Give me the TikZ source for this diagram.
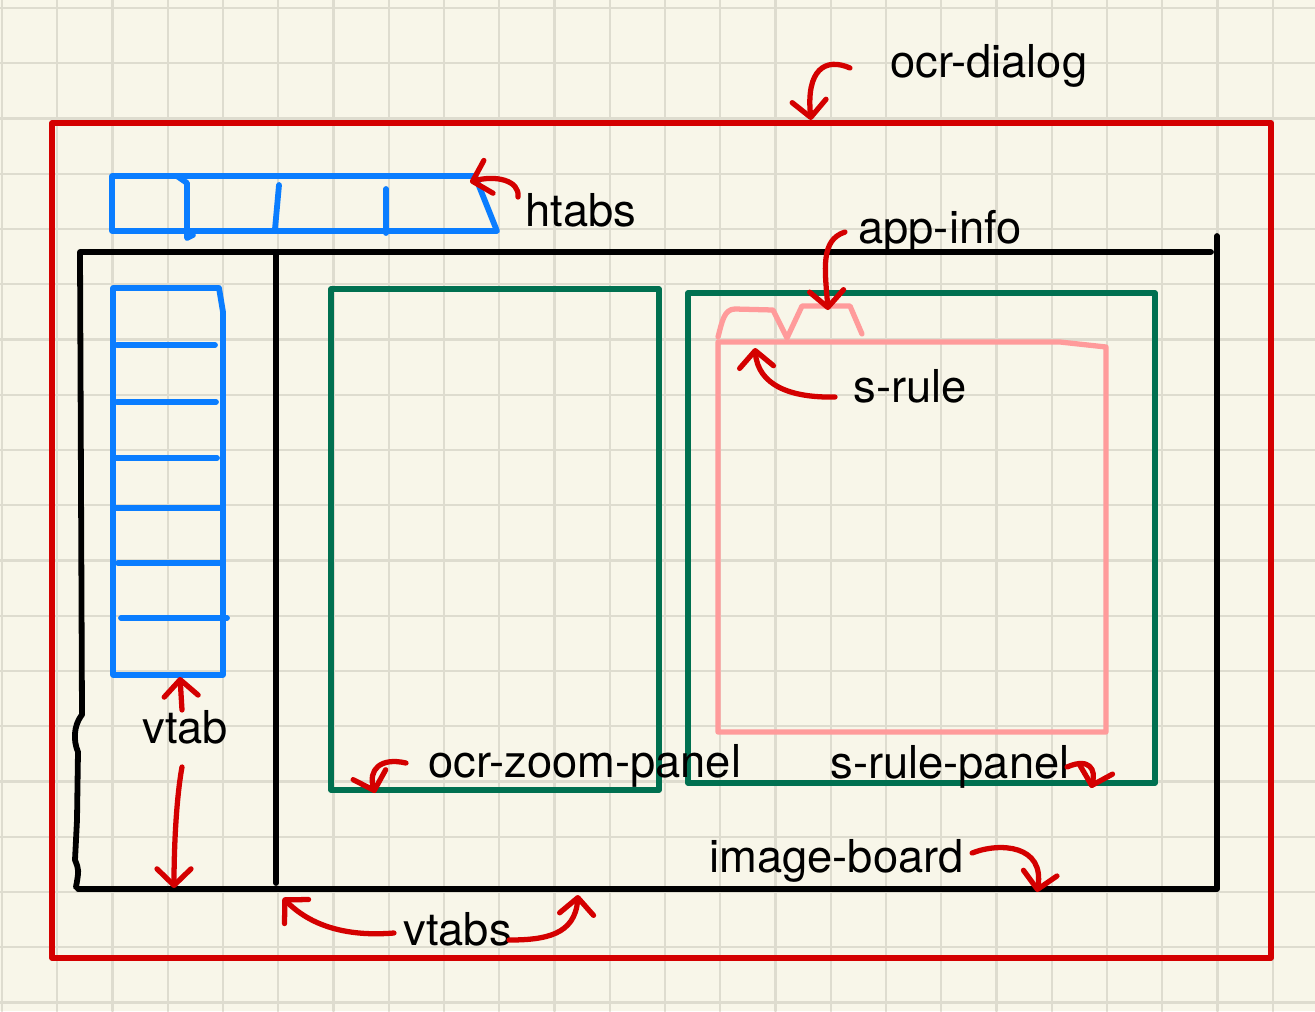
\documentclass[tikz,border=0pt]{standalone}
\usepackage{fontspec}
\setmainfont{TeX Gyre Heros}
\usepackage{tikz}
\usetikzlibrary{arrows.meta,calc}
\definecolor{sketchpaper}{RGB}{248,246,233}
\definecolor{sketchgrid}{RGB}{222,220,207}
\definecolor{penred}{RGB}{212,0,0}
\definecolor{penblue}{RGB}{10,125,255}
\definecolor{pengreen}{RGB}{0,112,80}
\definecolor{penpink}{RGB}{255,155,155}

\begin{document}
\begin{tikzpicture}[x=0.02cm, y=-0.02cm, line cap=round, line join=round,
  every node/.style={font=\fontsize{25.8pt}{30pt}\selectfont, inner sep=0pt, anchor=base west},
  gridline/.style={sketchgrid, line width=1.4pt},
  pen/.style={line width=3.3pt},
  thinpen/.style={line width=3.0pt},
  pointer/.style={penred, line width=3.0pt, -{Straight Barb[round, length=3.3mm, width=6.8mm]}}]
  \fill[sketchpaper] (0,0) rectangle (1315,1011);
  \useasboundingbox (0,0) rectangle (1315,1011);
  \foreach \k in {0,...,23} \draw[gridline] ({2+55.25*\k},0) -- ({2+55.25*\k},1011);
  \foreach \k in {0,...,18} \draw[gridline] (0,{8+55.25*\k}) -- (1315,{8+55.25*\k});

  \draw[thinpen, penred] (52,123) rectangle (1271,958);

  \draw[pen] (82,715) -- (80,252) -- (1211,252);
  \draw[pen] (1217,236) -- (1217,889) -- (78,889);
  \draw[pen] (81,716) .. controls (74,726) and (73,740) .. (78,752) -- (77,820) -- (75,860) .. controls (79,870) .. (76,887);
  \draw[pen] (276,253) -- (276,883);

  \draw[pen, penblue] (112,176) -- (475,176) -- (497,231) -- (112,231) -- cycle;
  \draw[pen, penblue] (177,176) -- (187,183) -- (187,238) -- (193,235);
  \draw[pen, penblue] (279,185) -- (275,229);
  \draw[pen, penblue] (386,189) -- (386,233);

  \draw[pen, penblue] (113,288) -- (219,288) -- (223,312) -- (223,675) -- (113,675) -- cycle;
  \foreach \y/\a/\b in {345/117/215, 402/117/216, 458/115/217, 508/115/222, 563/118/221, 618/121/227}
    \draw[pen, penblue] (\a,\y) -- (\b,\y);

  \draw[thinpen, pengreen] (331,289) rectangle (659,790);
  \draw[thinpen, pengreen] (688,293) rectangle (1155,783);

  \draw[thinpen, penpink] (718,342) -- (1060,342) -- (1106,347) -- (1106,732) -- (718,732) -- cycle;
  \draw[thinpen, penpink] (718,337) .. controls (722,322) and (724,309) .. (735,309) -- (773,310) -- (787,338)
    -- (802,306) -- (850,306) -- (862,334);

  \node (dialoglbl) at (890,77) {ocr-dialog};
  \node (htabslbl) at (525,226) {htabs};
  \node (appinfolbl) at (858,243) {app-info};
  \node (srulelbl) at (853,402) {s-rule};
  \node (vtablbl) at (142,743) {vtab};
  \node (zoomlbl) at (428,777) {ocr-zoom-panel};
  \node (srpanellbl) at (830,778) {s-rule-panel};
  \node (boardlbl) at (709,872) {image-board};
  \node (vtabslbl) at (403,945) {vtabs};

  \coordinate (dialogtip) at (811,120);
  \coordinate (htabstip) at (470,182);
  \coordinate (appinfotip) at (828,310);
  \coordinate (sruletip) at (755,348);
  \coordinate (vtabtop) at (180,677);
  \coordinate (vtabbottom) at (174,888);
  \coordinate (zoomtip) at (375,793);
  \coordinate (srpaneltip) at (1091,788);
  \coordinate (boardtip) at (1037,892);
  \coordinate (vtabsleft) at (283,898);
  \coordinate (vtabsright) at (578,895);

  \draw[pointer] ($(dialoglbl.base west)+(-40,-9)$) .. controls (825,57) and (806,70) .. (dialogtip);
  \draw[pointer] ($(htabslbl.base west)+(-7,-29)$) .. controls (520,180) and (495,175) .. (htabstip);
  \draw[pointer] ($(appinfolbl.base west)+(-13,-11)$) .. controls (820,240) and (825,270) .. (appinfotip);
  \draw[pointer] ($(srulelbl.base west)+(-18,-5)$) .. controls (790,398) and (758,385) .. (sruletip);
  \draw[pointer] ($(vtablbl.base west)+(40,-33)$) -- (vtabtop);
  \draw[pointer] ($(vtablbl.base west)+(40,24)$) .. controls (176,800) and (174,850) .. (vtabbottom);
  \draw[pointer] ($(zoomlbl.base west)+(-22,-14)$) .. controls (380,757) and (368,770) .. (zoomtip);
  \draw[pointer] ($(srpanellbl.base east)+(-3,-11)$) .. controls (1090,757) and (1096,770) .. (srpaneltip);
  \draw[pointer] ($(boardlbl.base east)+(8,-19)$) .. controls (1000,842) and (1045,845) .. (boardtip);
  \draw[pointer] ($(vtabslbl.base west)+(-9,-12)$) .. controls (345,937) and (310,925) .. (vtabsleft);
  \draw[pointer] ($(vtabslbl.base east)+(-3,-5)$) .. controls (545,940) and (575,935) .. (vtabsright);
\end{tikzpicture}
\end{document}
